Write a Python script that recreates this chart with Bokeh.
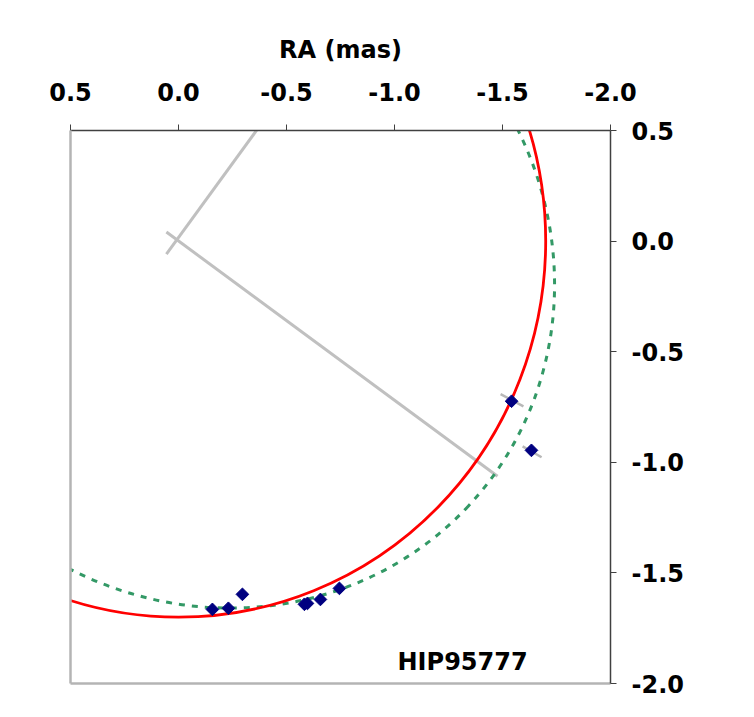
from bokeh.plotting import figure
from bokeh.models import Range1d, LinearAxis, FixedTicker, Label
from bokeh.embed import file_html
from bokeh.resources import INLINE

# ---- data ----
ra_ticks = [0.5, 0.0, -0.5, -1.0, -1.5, -2.0]
de_ticks = [0.5, 0.0, -0.5, -1.0, -1.5, -2.0]

obs_ra = [-1.542, -1.634, -0.157, -0.231, -0.296, -0.583, -0.597, -0.657, -0.745]
obs_de = [-0.724, -0.946, -1.665, -1.660, -1.597, -1.642, -1.638, -1.620, -1.570]

err_ra0 = [-1.491, -1.593]
err_ra1 = [-1.597, -1.681]
err_de0 = [-0.692, -0.928]
err_de1 = [-0.747, -0.977]

node_ra = [0.056, -0.366]
node_de = [-0.059, 0.507]
apse_ra = [0.056, -1.477]
apse_de = [0.041, -1.063]

red_center = (0.0, 0.0)
red_diameter = 3.40

green_center = (-0.165, -0.125)
green_width = 3.22
green_height = 3.00
green_angle_deg = -43

FONT = "DejaVu Sans"

p = figure(width=754, height=717, output_backend="svg", toolbar_location=None,
           x_range=Range1d(0.5, -2.0), y_range=Range1d(-2.0, 0.5),
           x_axis_location=None, y_axis_location=None,
           min_border_left=70, min_border_right=144, min_border_top=130, min_border_bottom=34)
p.outline_line_color = None
p.xgrid.visible = False
p.ygrid.visible = False
p.background_fill_color = "white"
p.border_fill_color = "white"

# top axis
top = LinearAxis(ticker=FixedTicker(ticks=ra_ticks), axis_label="RA (mas)",
                 major_label_overrides={v: f"{v:.1f}" for v in ra_ticks})
# right axis
right = LinearAxis(ticker=FixedTicker(ticks=de_ticks),
                   major_label_overrides={v: f"{v:.1f}" for v in de_ticks})
for ax in (top, right):
    ax.axis_line_color = "#404040"
    ax.axis_line_width = 1.5
    ax.major_tick_line_color = "#404040"
    ax.major_tick_out = 6
    ax.major_tick_in = 0
    ax.minor_tick_line_color = None
    ax.major_label_text_font = FONT
    ax.major_label_text_font_style = "bold"
    ax.major_label_text_font_size = "24px"
    ax.major_label_text_color = "black"
    ax.axis_label_text_font = FONT
    ax.axis_label_text_font_style = "bold"
    ax.axis_label_text_font_size = "24px"
    ax.axis_label_text_color = "black"
top.major_label_standoff = 24
top.axis_label_standoff = 16
right.major_label_standoff = 15
p.add_layout(top, "above")
p.add_layout(right, "right")

# plain grey frame lines on left and bottom
for side in ("left", "below"):
    ax = LinearAxis(ticker=FixedTicker(ticks=[]))
    ax.axis_line_color = "#b4b4b4"
    ax.axis_line_width = 2.5
    ax.major_tick_line_color = None
    ax.minor_tick_line_color = None
    ax.major_label_text_font_size = "0px"
    p.add_layout(ax, side)

# grey orientation lines
p.line(node_ra, node_de, line_color="#c0c0c0", line_width=3)
p.line(apse_ra, apse_de, line_color="#c0c0c0", line_width=3)

# orbits
p.ellipse(x=[green_center[0]], y=[green_center[1]], width=[green_width], height=[green_height],
          angle=[green_angle_deg], angle_units="deg", fill_color=None,
          line_color="#339966", line_width=3, line_dash="6 7")
p.ellipse(x=[red_center[0]], y=[red_center[1]], width=[red_diameter], height=[red_diameter],
          fill_color=None, line_color="#ff0000", line_width=2.8)

# error bars and observations
p.segment(x0=err_ra0, y0=err_de0, x1=err_ra1, y1=err_de1, line_color="#b8b8b8", line_width=2.5)
p.scatter(obs_ra, obs_de, marker="square", angle=45, angle_units="deg", size=9,
          fill_color="#000080", line_color="#000080")

p.add_layout(Label(x=-1.014, y=-1.905, text="HIP95777", text_align="left", text_baseline="middle",
                   text_font=FONT, text_font_style="bold", text_font_size="24px", text_color="black"))
p.add_layout(Label(x=-2.486, y=-0.747, text="DE (mas)", text_align="center", text_baseline="middle",
                   angle=90, angle_units="deg",
                   text_font=FONT, text_font_style="bold", text_font_size="24px", text_color="black"))

open("out.html", "w").write(file_html(p, INLINE))
